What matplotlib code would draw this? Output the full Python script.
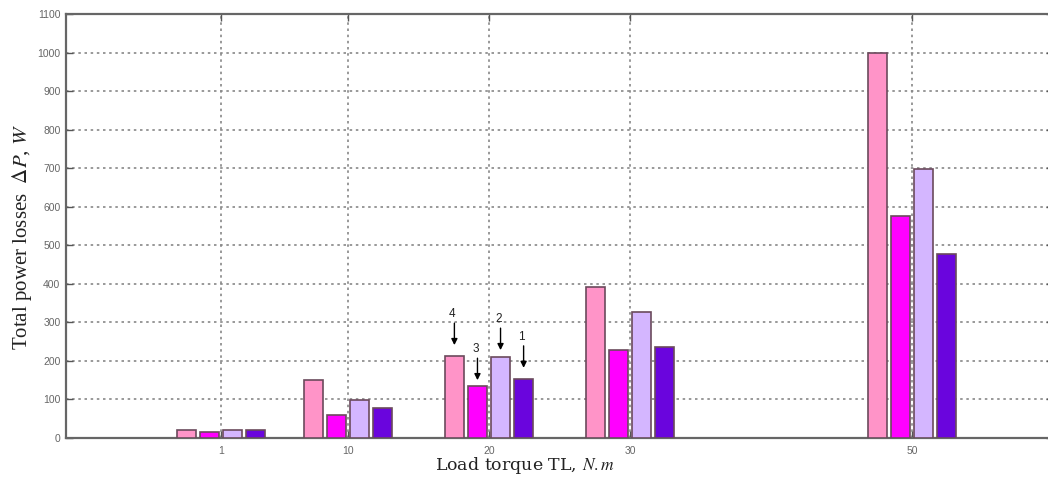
import matplotlib
matplotlib.use("Agg")
import matplotlib.pyplot as plt
import numpy as np

# Data
torques = [1, 10, 20, 30, 50]
series_4 = [21, 151, 212, 393, 1000]   # pink
series_3 = [15, 59, 136, 229, 575]     # magenta
series_2 = [21, 99, 210, 327, 697]     # lavender
series_1 = [20, 78, 153, 236, 478]     # purple
series = [series_4, series_3, series_2, series_1]
series_names = ["4", "3", "2", "1"]
yticks = list(range(0, 1101, 100))

colors = ["#FF94C8", "#FF00FF", "#D4B6FF", "#6A05DD"]
edge = "#6b4a5c"

plt.rcParams["mathtext.fontset"] = "stix"

fig = plt.figure(figsize=(10.48, 4.79), dpi=100)
W, H = 1048, 479
ax = fig.add_axes([66 / W, (H - 438) / H, (1053 - 66) / W, (438 - 14) / H])

x = np.array(torques, dtype=float)
spacing = np.min(np.diff(x))
nb = len(series)
groupwidth = min(0.8, nb / (nb + 1.5)) * spacing
slot = groupwidth / nb
bw = slot * 0.8
for i, (vals, c) in enumerate(zip(series, colors)):
    xs = x - groupwidth / 2 + slot * (i + 0.5)
    ax.bar(xs, vals, width=bw, color=c, edgecolor=edge, linewidth=1.2, zorder=3)

# arrow annotations at the 20 N.m group
gi = torques.index(20)
head_off = [29, 14, 18, 29]
for i, name in enumerate(series_names):
    xc = x[gi] - groupwidth / 2 + slot * (i + 0.5)
    top = series[i][gi]
    head = top + head_off[i]
    tail = head + 57
    ax.annotate("", xy=(xc, head), xytext=(xc, tail),
                arrowprops=dict(arrowstyle="-|>", color="black", lw=1.0,
                                mutation_scale=9, shrinkA=0, shrinkB=0), zorder=5)
    ax.text(xc - 0.15, tail + 8, name, ha="center", va="bottom", fontsize=8.5,
            color="#222222", family="Liberation Sans", zorder=5)

ax.set_xlim(-10, 60)
ax.set_ylim(0, 1100)
ax.set_xticks(torques)
ax.set_yticks(yticks)
ax.set_xticklabels([str(t) for t in torques])
ax.set_yticklabels([str(t) for t in yticks])
ax.tick_params(axis="both", direction="in", length=5, width=1, colors="#555555",
               labelsize=7.5, labelcolor="#666666", top=True, right=True)
ax.tick_params(axis="x", pad=6)
ax.tick_params(axis="y", pad=4)
for lab in ax.get_xticklabels() + ax.get_yticklabels():
    lab.set_family("Liberation Sans")

ax.grid(True, linestyle=(0, (1.5, 2.2)), color="#888888", linewidth=1.2)
ax.set_axisbelow(True)
for s in ax.spines.values():
    s.set_color("#666666")
    s.set_linewidth(1.6)

fig.text(22 / W, 1 - 237 / H, "Total power losses  $\\Delta P$, $W$", rotation=90,
         ha="center", va="center", fontsize=15, family="Liberation Serif", color="#222222")
fig.text(525 / W, 1 - 466 / H, "Load torque TL, $N.m$", ha="center", va="center",
         fontsize=12.5, family="DejaVu Serif", color="#222222")

fig.savefig("out.png", dpi=100)
